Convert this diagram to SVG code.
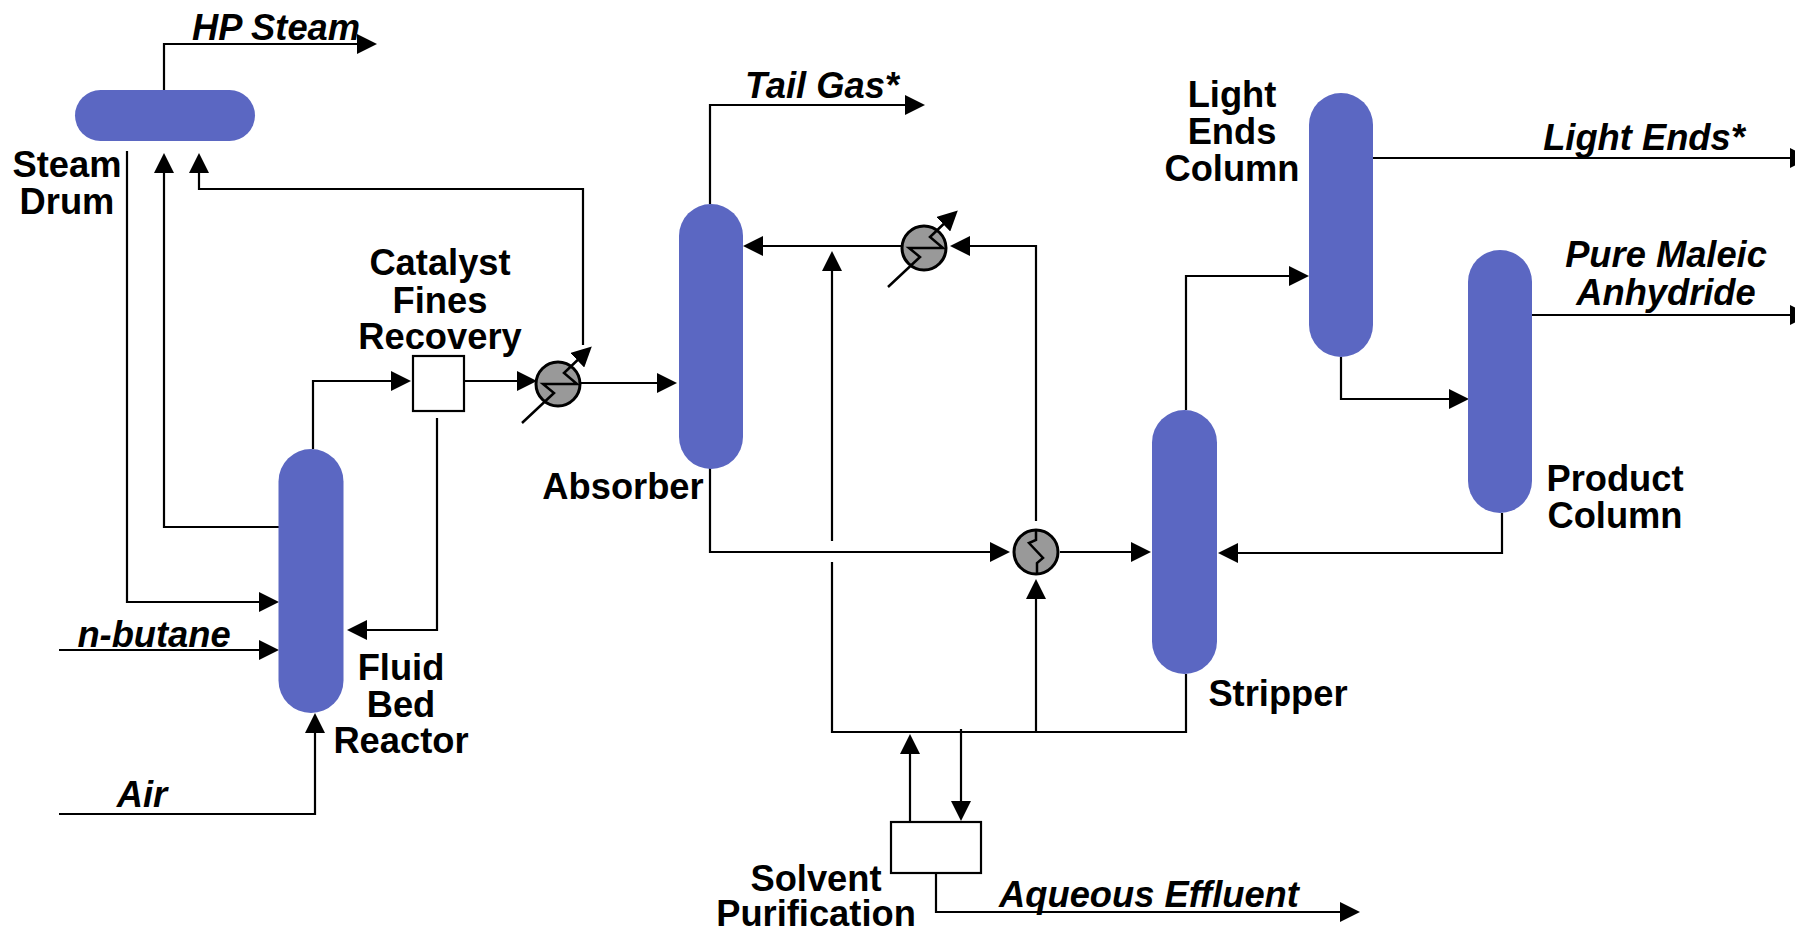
<svg xmlns="http://www.w3.org/2000/svg" width="1795" height="928" viewBox="0 0 1795 928">
<style>
.v{fill:#5b67c2}
.c{fill:none;stroke:#000;stroke-width:2.2}
.a{marker-end:url(#ah)}
.b{fill:#fff;stroke:#000;stroke-width:2.2}
.x{fill:#999;stroke:#000;stroke-width:3}
.z{fill:none;stroke:#000;stroke-width:2.5}
text{font-family:"Liberation Sans",Arial,sans-serif;font-size:36.3px;font-weight:bold;text-anchor:middle;fill:#000}
.i{font-style:italic}
</style>
<defs>
<marker id="ah" markerUnits="userSpaceOnUse" markerWidth="20" markerHeight="20" viewBox="0 0 20 20" refX="12" refY="10" orient="auto"><polygon points="0,0 20,10 0,20" fill="#000"/></marker>
<g id="hx"><circle class="x" cx="0" cy="0" r="22"/><path class="z a" d="M-36,39 L-4,9 L-15,0 H19 L6,-11 L28,-32"/></g>
</defs>
<g id="connectors">
<path class="c a" d="M164,90 V44 H369"/>
<path class="c a" d="M127,151 V602 H271"/>
<path class="c a" d="M279,527 H164 V161"/>
<path class="c a" d="M583,345 V189 H199 V161"/>
<path class="c a" d="M59,650 H271"/>
<path class="c a" d="M59,814 H315 V721"/>
<path class="c a" d="M313,449 V381 H403"/>
<path class="c a" d="M464,381 H529"/>
<path class="c a" d="M581,383 H669"/>
<path class="c a" d="M437,418 V630 H355"/>
<path class="c a" d="M710,204 V105 H917"/>
<path class="c a" d="M710,468 V552 H1002"/>
<path class="c a" d="M1060,552 H1143"/>
<path class="c a" d="M1502,513 V553 H1226"/>
<path class="c a" d="M1186,410 V276 H1301"/>
<path class="c a" d="M1341,357 V399 H1461"/>
<path class="c a" d="M1373,158 H1802"/>
<path class="c a" d="M1532,315 H1802"/>
<path class="c a" d="M832,541 V259"/>
<path class="c" d="M832,562 V732 H1186 V674"/>
<path class="c a" d="M1036,732 V587"/>
<path class="c a" d="M1036,521 V246 H958"/>
<path class="c a" d="M902,246 H751"/>
<path class="c a" d="M910,822 V742"/>
<path class="c a" d="M961,729 V813"/>
<path class="c a" d="M936,873 V912 H1352"/>
</g>
<g id="steam-drum"><rect class="v" x="75" y="90" width="180" height="51" rx="25.5"/><text x="67" y="177">Steam</text><text x="67" y="214">Drum</text></g>
<g id="reactor"><rect class="v" x="278.5" y="449" width="65" height="264" rx="32.5"/><text x="401" y="680">Fluid</text><text x="401" y="717">Bed</text><text x="401" y="753">Reactor</text></g>
<g id="catalyst-recovery"><rect class="b" x="413" y="356" width="51" height="55"/><text x="440" y="275">Catalyst</text><text x="440" y="313">Fines</text><text x="440" y="349">Recovery</text></g>
<g id="hx1"><use href="#hx" x="558" y="384"/></g>
<g id="absorber"><rect class="v" x="679" y="204" width="64" height="265" rx="32"/><text x="623" y="499">Absorber</text></g>
<g id="hx2"><use href="#hx" x="924" y="248"/></g>
<g id="hx3"><circle class="x" cx="1036" cy="552" r="22"/><path class="z" d="M1036,530 V540 L1029,543 L1043,558 L1037,563 V573"/></g>
<g id="stripper"><rect class="v" x="1152" y="410" width="65" height="264" rx="32.5"/><text x="1278" y="706">Stripper</text></g>
<g id="light-ends-column"><rect class="v" x="1309" y="93" width="64" height="264" rx="32"/><text x="1232" y="107">Light</text><text x="1232" y="144">Ends</text><text x="1232" y="181">Column</text></g>
<g id="product-column"><rect class="v" x="1468" y="250" width="64" height="263" rx="32"/><text x="1615" y="491">Product</text><text x="1615" y="528">Column</text></g>
<g id="solvent-purification"><rect class="b" x="891" y="822" width="90" height="51"/><text x="816" y="891">Solvent</text><text x="816" y="926">Purification</text></g>
<g id="labels">
<text class="i" x="276" y="40">HP Steam</text>
<text class="i" x="822" y="98">Tail Gas*</text>
<text class="i" x="1644" y="150">Light Ends*</text>
<text class="i" x="1666" y="267">Pure Maleic</text>
<text class="i" x="1666" y="305">Anhydride</text>
<text class="i" x="154" y="647">n-butane</text>
<text class="i" x="142" y="807">Air</text>
<text class="i" x="1149" y="907">Aqueous Effluent</text>
</g>
</svg>
